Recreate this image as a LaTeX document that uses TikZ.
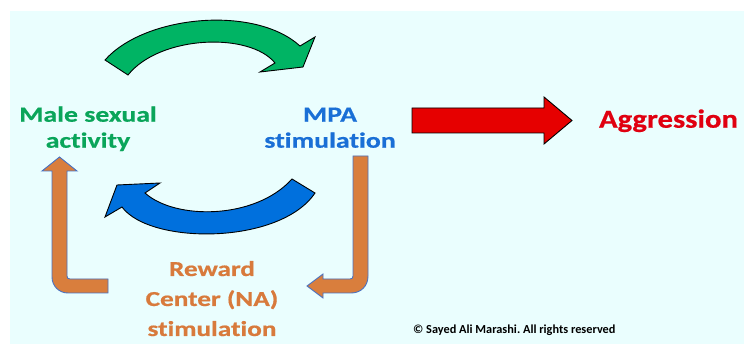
\documentclass[tikz,border=0pt]{standalone}
\usepackage{fontspec}
\setmainfont{Carlito}
\newfontfamily\widef[FakeStretch=1.28,FakeBold=0.6,Ligatures=CommonOff]{Carlito}
\newfontfamily\aggf[FakeStretch=1.18,FakeBold=0.6,Ligatures=CommonOff]{Carlito}
\frenchspacing
\definecolor{bgc}{RGB}{234,254,254}
\definecolor{gtext}{RGB}{10,165,90}
\definecolor{garrow}{RGB}{0,180,100}
\definecolor{btext}{RGB}{26,111,214}
\definecolor{barrow}{RGB}{0,112,221}
\definecolor{rtext}{RGB}{224,0,16}
\definecolor{rarrow}{RGB}{230,0,0}
\definecolor{otext}{RGB}{216,122,60}
\definecolor{oarrow}{RGB}{217,126,61}
\definecolor{oedge}{RGB}{74,114,192}
\tikzset{
  lbl/.style={inner sep=0pt, align=center, font=\widef\bfseries\fontsize{21.7}{26}\selectfont},
  blockarrow/.style={draw=black, line width=0.9pt, line join=miter},
  bentarrow/.style={draw=oedge, fill=oarrow, line width=0.9pt, line join=miter}
}
\begin{document}
\begin{tikzpicture}[x=1pt,y=-1pt]
\useasboundingbox (0,0) rectangle (744,344);
\fill[bgc] (10,11) rectangle (744,344);
% texts
\node[lbl, text=gtext, anchor=base] (male) at (88,147.7) {Male sexual\\activity};
\node[lbl, text=btext, anchor=base] (mpa) at (330,147.7) {MPA\\stimulation};
\node[lbl, text=rtext, anchor=base, font=\aggf\bfseries\fontsize{26}{30}\selectfont] (agg) at (668.5,127.7) {Aggression};
\node[lbl, text=otext, anchor=base, font=\widef\bfseries\fontsize{21.3}{30}\selectfont] (rew) at (212,336) {Reward\\Center (NA)\\stimulation};
\node[inner sep=0pt, anchor=base west, font=\bfseries\fontsize{12.3}{15}\selectfont] (copy) at (413,334) {© Sayed Ali Marashi. All rights reserved};
% green curved arrow
\path[blockarrow, fill=garrow] (105,60) .. controls (145,15) and (255,5) .. (300,46)
  -- (315,37) -- (303,67) -- (260,72) -- (275,63)
  .. controls (250,32) and (160,35) .. (128,75) -- cycle;
% blue curved arrow
\path[blockarrow, fill=barrow] (292,179) -- (315,193)
  .. controls (280,245) and (150,245) .. (122,207)
  -- (105,217) -- (117,185) -- (160,183) -- (145,193)
  .. controls (175,220) and (255,220) .. (292,179) -- cycle;
% red arrow
\path[blockarrow, fill=rarrow] (412,108) -- (544,108) -- (544,97) -- (572,120.5)
  -- (544,144) -- (544,133) -- (412,133) -- cycle;
% left orange bent arrow
\path[bentarrow] (59.5,157) -- (77,171) -- (67,171) -- (67,276)
  .. controls (67,278) and (68,279) .. (70,279) -- (108,279) -- (108,293) -- (68,293)
  .. controls (59,293) and (52,286) .. (52,277) -- (52,171) -- (42,171) -- cycle;
% right orange bent arrow
\path[bentarrow] (353,156) -- (368,156) -- (368,276)
  .. controls (368,286) and (361,293) .. (351,293) -- (323,293) -- (323,298)
  -- (307,286) -- (323,274) -- (323,279) -- (350,279)
  .. controls (352,279) and (353,278) .. (353,276) -- cycle;
\end{tikzpicture}
\end{document}
